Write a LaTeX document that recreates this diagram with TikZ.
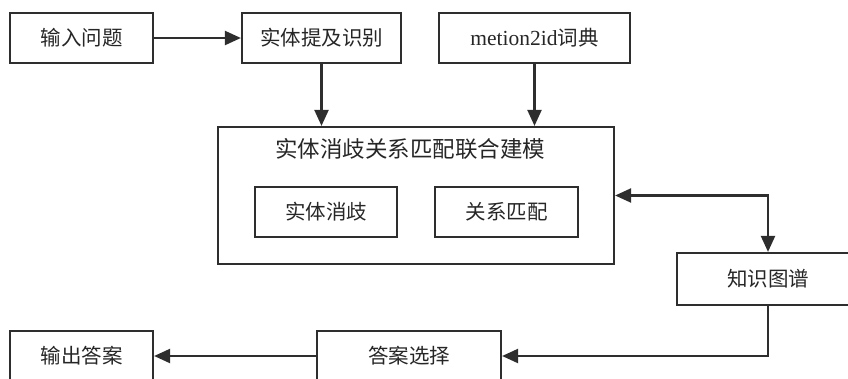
\documentclass[tikz,border=0pt]{standalone}
\usepackage{fontspec}
\setmainfont{Liberation Serif}
\newfontfamily\cjk{Noto Sans CJK SC}
\usetikzlibrary{arrows.meta}
\definecolor{ink}{HTML}{2E2E2E}
\definecolor{txt}{HTML}{262626}
\tikzset{
  x=1pt, y=-1pt,
  box/.style={draw=ink, line width=2.2pt, inner sep=0pt, text=txt,
    font=\cjk\fontsize{20.5}{22}\selectfont},
  flow/.style={draw=ink, line width=2.2pt,
    -{Triangle[length=16pt,width=14pt]}},
  flowboth/.style={draw=ink, line width=2.2pt,
    {Triangle[length=16pt,width=14pt]}-{Triangle[length=16pt,width=14pt]}},
}
\begin{document}
\begin{tikzpicture}
\useasboundingbox (0,0) rectangle (848,378);
\clip (0,0) rectangle (848,378);

% top row
\node[box, minimum width=143pt, minimum height=50pt] (in)   at (81.5,38)  {输入问题};
\node[box, minimum width=159pt, minimum height=50pt] (ment) at (321.5,38) {实体提及识别};
\node[box, minimum width=191pt, minimum height=50pt] (dict) at (534.5,38)
  {\fontsize{21.5}{22}\rmfamily metion2id\cjk\fontsize{20.5}{22}\selectfont 词典};

% joint modelling block
\node[box, minimum width=396pt, minimum height=137pt] (big) at (416,195.5) {};
\node[text=txt, font=\cjk\fontsize{22.5}{24}\selectfont, inner sep=0pt] (title) at (410,149)
  {实体消歧关系匹配联合建模};
\node[box, minimum width=142pt, minimum height=50pt] (ed) at (326,212)   {实体消歧};
\node[box, minimum width=143pt, minimum height=50pt] (rm) at (506.5,212) {关系匹配};

% knowledge graph and answer nodes
\node[box, minimum width=182pt, minimum height=52pt] (kg)  at (768,279)   {知识图谱};
\node[box, minimum width=184pt, minimum height=50pt] (sel) at (409,356)   {答案选择};
\node[box, minimum width=143pt, minimum height=50pt] (out) at (81.5,356)  {输出答案};

% connectors
\draw[flow] (in.east) -- (ment.west);
\draw[flow] (ment.south) -- (ment.south |- big.north);
\draw[flow] (dict.south) -- (dict.south |- big.north);
\draw[flowboth] (big.east) -| (kg.north);
\draw[flow] (kg.south) |- (sel.east);
\draw[flow] (sel.west) -- (out.east);
\end{tikzpicture}
\end{document}
